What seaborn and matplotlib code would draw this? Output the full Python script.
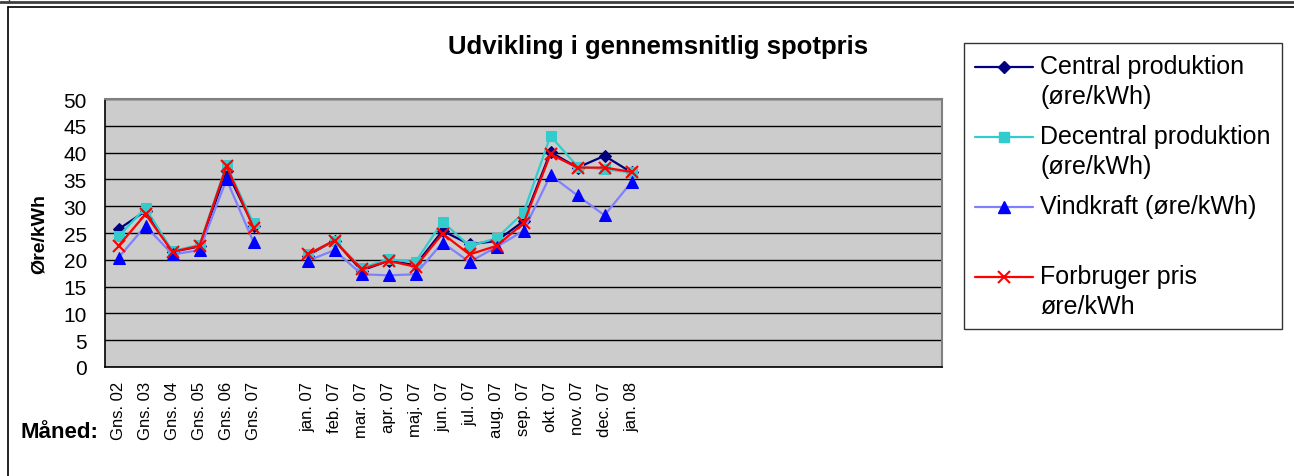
import numpy as np, pandas as pd
import seaborn as sns
import matplotlib.pyplot as plt
from matplotlib.lines import Line2D
from matplotlib.legend_handler import HandlerLine2D

sns.set_style("white")
plt.rcParams['font.family'] = ['Liberation Sans', 'DejaVu Sans']
plt.rcParams.update({"text.color": "black", "axes.labelcolor": "black",
                     "xtick.color": "black", "ytick.color": "black"})

# categories on the x axis (blank = empty slot)
categories = ["Gns. 02", "Gns. 03", "Gns. 04", "Gns. 05", "Gns. 06", "Gns. 07", "",
              "jan. 07", "feb. 07", "mar. 07", "apr. 07", "maj. 07", "jun. 07", "jul. 07",
              "aug. 07", "sep. 07", "okt. 07", "nov. 07", "dec. 07", "jan. 08"]
n_slots = 31  # the category axis keeps running empty to the right

central = [25.7, 29.1, 21.5, 22.5, 36.6, 26.3, np.nan, 20.8, 23.6, 18.0, 19.8, 19.0,
           25.4, 22.9, 23.5, 27.2, 40.1, 37.2, 39.4, 36.3]
decentral = [24.4, 29.7, 21.6, 22.8, 37.7, 26.8, np.nan, 21.0, 23.6, 18.5, 20.1, 19.6,
             27.1, 22.6, 24.0, 28.8, 43.1, 37.4, 36.9, 36.3]
vindkraft = [20.4, 26.3, 21.0, 21.8, 35.0, 23.3, np.nan, 19.8, 21.8, 17.3, 17.1, 17.3,
             23.2, 19.6, 22.4, 25.4, 35.8, 32.0, 28.3, 34.5]
forbruger = [22.6, 28.5, 21.5, 22.6, 37.5, 26.0, np.nan, 21.0, 23.6, 18.2, 19.8, 18.7,
             24.9, 21.0, 22.6, 26.8, 39.7, 37.2, 37.2, 36.4]

labels = ["Central produktion\n(øre/kWh)", "Decentral produktion\n(øre/kWh)",
          "Vindkraft (øre/kWh)\n ", "Forbruger pris\nøre/kWh"]

series = [
    (central,   dict(color="#000080", marker="D", markersize=6,   markerfacecolor="#000080", markeredgecolor="#000080")),
    (decentral, dict(color="#33CCCC", marker="s", markersize=7.5, markerfacecolor="#33CCCC", markeredgecolor="#33CCCC")),
    (vindkraft, dict(color="#8080FF", marker="^", markersize=8,   markerfacecolor="#0000FF", markeredgecolor="#0000FF")),
    (forbruger, dict(color="#FF0000", marker="x", markersize=8,   markerfacecolor="#FF0000", markeredgecolor="#FF0000", markeredgewidth=1.5)),
]

W, H = 1294, 477
fig = plt.figure(figsize=(W / 100, H / 100), dpi=100)
ax = fig.add_axes([105 / W, 1 - 368 / H, 837 / W, 268 / H])
ax.set_facecolor("#CCCCCC")

pos = np.arange(len(categories))
seg = np.where(pos < 6, 0, 1)
handles = []
for vals, style in series:
    d = pd.DataFrame({"pos": pos, "val": vals, "seg": seg}).dropna()
    sns.lineplot(data=d, x="pos", y="val", units="seg", estimator=None, lw=1.6,
                 ax=ax, legend=False, **style)
    handles.append(Line2D([], [], lw=1.6, **style))

ax.set_xlim(-0.5, n_slots - 0.5)
ax.set_ylim(0, 50)
ax.set_yticks(range(0, 51, 5))
ax.set_axisbelow(True)
ax.yaxis.grid(True, color="black", lw=1)
ax.xaxis.grid(False)
ax.set_xticks(range(n_slots))
ax.set_xticklabels(categories + [""] * (n_slots - len(categories)), rotation=90, fontsize=12)
ax.set_xticks(np.arange(-0.5, n_slots), minor=True)
ax.tick_params(axis="x", which="major", length=0, pad=10)
ax.tick_params(axis="x", which="minor", length=5, width=1, color="black", direction="out")
ax.tick_params(axis="y", length=5, width=1, color="black", direction="out", labelsize=15, pad=8)
ax.set_xlabel("")
ax.set_ylabel("")
for s in ["left", "bottom"]:
    ax.spines[s].set_color("black")
    ax.spines[s].set_linewidth(1.2)
for s in ["top", "right"]:
    ax.spines[s].set_color("#808080")
    ax.spines[s].set_linewidth(1.5)

fig.text(658 / W, 1 - 47 / H, "Udvikling i gennemsnitlig spotpris", ha="center", va="center",
         fontsize=18.5, fontweight="bold")
fig.text(39 / W, 1 - 234 / H, "Øre/kWh", rotation=90, ha="center", va="center",
         fontsize=14, fontweight="bold")
fig.text(20 / W, 1 - 433 / H, "Måned:", ha="left", va="center", fontsize=16, fontweight="bold")


class FirstLineHandler(HandlerLine2D):
    # put the legend symbol next to the first text line
    def create_artists(self, legend, orig_handle, xdescent, ydescent, width, height, fontsize, trans):
        arts = super().create_artists(legend, orig_handle, xdescent, ydescent, width, height, fontsize, trans)
        for a in arts:
            a.set_ydata(np.asarray(a.get_ydata()) + 0.6 * fontsize)
        return arts


leg = fig.legend(handles, labels, loc="upper left", bbox_to_anchor=(964 / W, 1 - 44 / H),
                 fontsize=18, frameon=True, fancybox=False, edgecolor="black",
                 handlelength=2.3, handletextpad=0.3, borderpad=0.45, labelspacing=0.65,
                 borderaxespad=0, handler_map={Line2D: FirstLineHandler(numpoints=1)})
leg.get_frame().set_linewidth(1.0)
for t in leg.get_texts():
    t.set_linespacing(1.3)

# outer chart frame
fig.add_artist(Line2D([8 / W, 8 / W], [0, 1 - 8 / H], transform=fig.transFigure, color="black", lw=1.2))
fig.add_artist(Line2D([8 / W, 1], [1 - 8 / H, 1 - 8 / H], transform=fig.transFigure, color="black", lw=1.2))
fig.add_artist(Line2D([0, 1], [1 - 2.5 / H, 1 - 2.5 / H], transform=fig.transFigure, color="#404040", lw=2))
fig.add_artist(Line2D([9 / W, 9 / W], [1 - 2.5 / H, 1], transform=fig.transFigure, color="#404040", lw=1))

fig.savefig("out.png", dpi=100)
